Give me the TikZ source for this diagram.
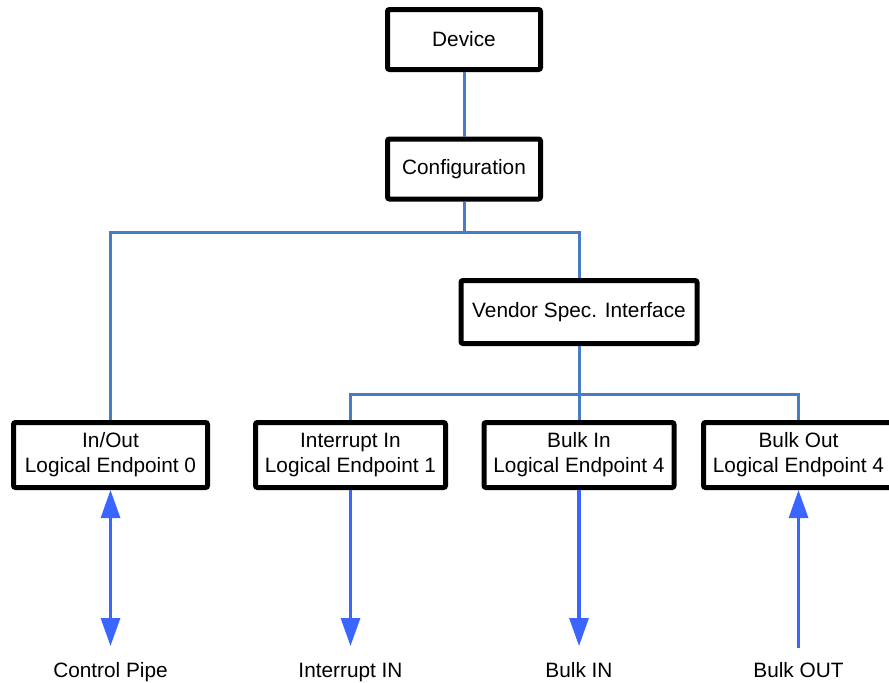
\documentclass[tikz,border=0pt]{standalone}
\usepackage{fontspec}
\setmainfont{Liberation Sans}
\usepackage{tikz}
\usetikzlibrary{arrows.meta}
\definecolor{linkblue}{HTML}{4A7CC4}
\definecolor{pipeblue}{HTML}{3A66FF}
\tikzset{
  main node/.style={rectangle,draw,line width=2.5pt,rounded corners=1pt,align=center,
    font=\fontsize{10.4}{12.6}\selectfont,inner sep=0pt},
  top node/.style={main node,minimum width=76.5pt,minimum height=30pt},
  ep node/.style={main node,minimum width=95pt,minimum height=32.5pt},
  pipe label/.style={font=\fontsize{10.4}{12.6}\selectfont,inner sep=0pt,anchor=base},
  link/.style={draw=linkblue,line width=1.5pt},
  pipe/.style={draw=pipeblue,line width=1.6pt}
}

\begin{document}
\begin{tikzpicture}[x=0.5pt,y=-0.5pt,>={Triangle[length=14pt,width=9.5pt]}]
  \useasboundingbox (0,0) rectangle (889,682);
  \clip (0,0) rectangle (889,682);

  \node[top node] (dev) at (464,39.5) {Device};
  \node[top node] (conf) at (464,169) {Configuration};
  \node[main node,minimum width=118pt,minimum height=31.5pt] (vend) at (579,312) {Vendor Spec. Interface};

  \node[ep node,minimum width=97pt] (ep0) at (110.5,455) {In/Out\\Logical Endpoint 0};
  \node[ep node] (ep1) at (350.5,455) {Interrupt In\\Logical Endpoint 1};
  \node[ep node] (ep2) at (579,455) {Bulk In\\Logical Endpoint 4};
  \node[ep node] (ep3) at (798.5,455) {Bulk Out\\Logical Endpoint 4};

  \node[pipe label] (p0) at (110.5,677) {Control Pipe};
  \node[pipe label] (p1) at (350.5,677) {Interrupt IN};
  \node[pipe label] (p2) at (579,677) {Bulk IN};
  \node[pipe label] (p3) at (798.5,677) {Bulk OUT};

  \coordinate (p0 end) at (110.5,646);
  \coordinate (p1 end) at (350.5,646);
  \coordinate (p2 end) at (579,646);
  \coordinate (p3 end) at (798.5,648);

  % tree links
  \path[link] (dev) -- (conf);
  \path[link] (conf.south) |- (110.5,232) -- (ep0.north);
  \path[link] (conf.south) |- (579,232) -- (vend.north);
  \path[link] (vend.south) -- (ep2.north);
  \path[link] (ep1.north) |- (579,394) -| (ep3.north);

  % pipes
  \path[pipe,<->] (ep0.south) -- (p0 end);
  \path[pipe,->] (ep1.south) -- (p1 end);
  \path[pipe,->] (ep2.south) -- (p2 end);
  \path[pipe,->] (p3 end) -- (ep3.south);
\end{tikzpicture}
\end{document}
